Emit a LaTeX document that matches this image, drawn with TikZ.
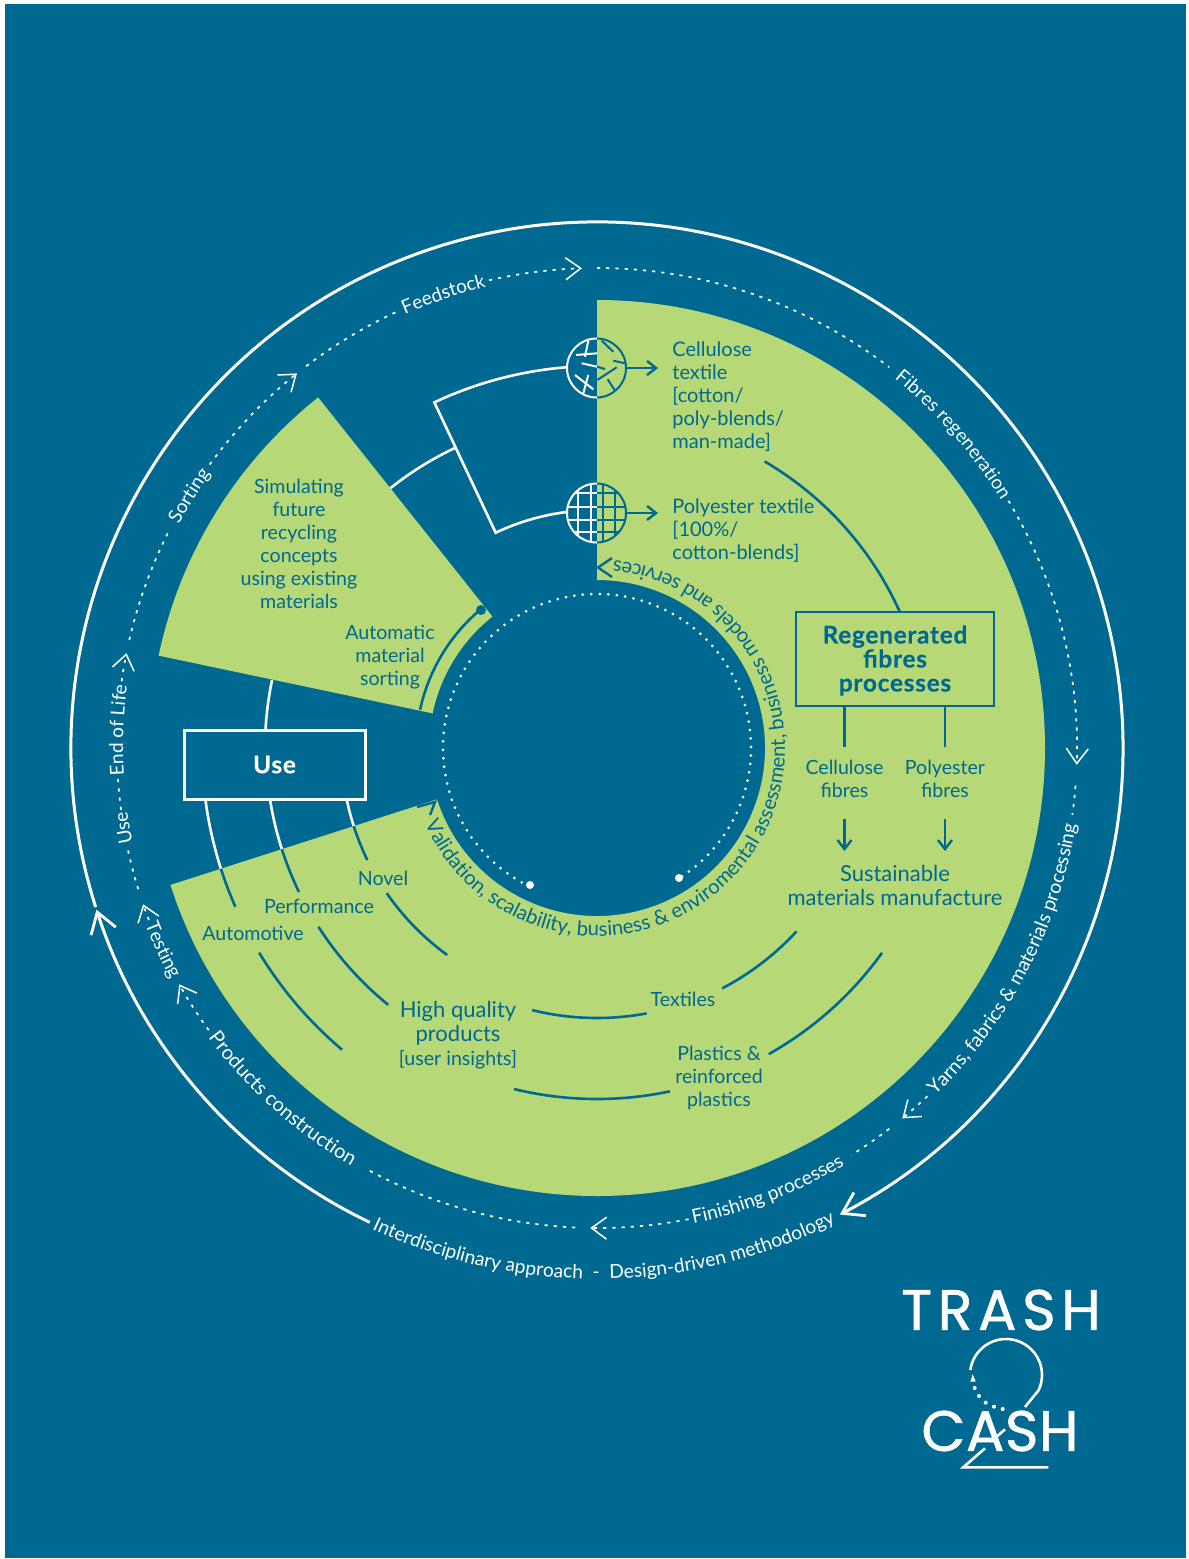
\documentclass[tikz,border=0pt]{standalone}
\usepackage{fontspec}
\setmainfont{Lato}
\newfontfamily\logotrash[LetterSpace=10,FakeBold=1]{Poppins}
\newfontfamily\logocash[LetterSpace=1,FakeBold=1]{Poppins}
\newcommand\heavytext{\fontsize{12.2}{12}\selectfont\bfseries\addfontfeature{LetterSpace=3,FakeBold=.4}}
\usetikzlibrary{arrows.meta,decorations.text}
\definecolor{bluebg}{HTML}{006992}
\definecolor{leaf}{HTML}{B6D877}
\tikzset{
  conw/.style={draw=white,line width=1.3pt},
  cont/.style={draw=bluebg,line width=1.3pt},
  ringline/.style={draw=white,line width=1.5pt},
  ringdash/.style={draw=white,line width=.85pt,dash pattern=on 1.6pt off 3pt},
  ringtip/.style={-{Straight Barb[length=7.5pt,width=11pt,line width=.75pt]}},
  bigtip/.style={-{Straight Barb[length=10pt,width=13pt,line width=1.4pt]}},
  tealtip/.style={draw=bluebg,line width=1.2pt,-{Straight Barb[length=4.5pt,width=7pt,line width=1.2pt]}},
  lab/.style={text=bluebg,font=\fontsize{9.8}{11.5}\selectfont,align=center,inner sep=0pt},
  labl/.style={lab,font=\fontsize{10}{11.5}\selectfont,align=left,anchor=west},
  labbig/.style={lab,font=\fontsize{11}{12.2}\selectfont},
  boxlab/.style={text=bluebg,font=\heavytext,align=center,draw=bluebg,line width=1.4pt,inner sep=0pt},
}
\newcommand\ringarc[4][]{\draw[#1] (597,-748) ++(#3:#2) arc[start angle=#3,end angle=#4,radius=#2];}
\newcommand\ringtext[6][10]{\path[decorate,decoration={text along path,text align=center,text={|\fontsize{#1}{12}\selectfont\color{#2}|#6}}] (597,-748) ++(#4:#3) arc[start angle=#4,end angle=#5,radius=#3];}
\begin{document}
\begin{tikzpicture}[x=.5pt,y=.5pt]
\useasboundingbox (0,0) rectangle (1189,-1559);
\fill[white] (0,0) rectangle (1189,-1559);
\fill[bluebg] (5,-4) rectangle (1186,-1558);
% green areas
\fill[leaf] (597,-748) ++(90:448) arc[start angle=90,end angle=-162.2,radius=448] -- ++(17.8:280) arc[start angle=-162.2,end angle=90,radius=168] -- cycle;
\fill[leaf] (597,-748) ++(128.5:448) arc[start angle=128.5,end angle=168.1,radius=448] -- ++(-11.9:280) arc[start angle=168.1,end angle=128.5,radius=168] -- cycle;
% outer ring
\ringarc[ringline,bigtip]{526}{197.6}{-62.5}
\ringarc[ringline,bigtip]{526}{244.4}{197.9}
\ringtext[9.6]{white}{531}{238}{303.6}{Interdisciplinary approach{\ }{\ }-{\ }{\ }Design-driven methodology}
% dotted ring
\ringarc[ringdash]{480}{90}{52.5}
\ringarc[ringdash,ringtip]{480}{31}{-2}
\ringarc[ringdash]{480}{-4.5}{-8}
\ringarc[ringdash,ringtip]{480}{-46.5}{-50.5}
\ringarc[ringdash]{480}{-52.5}{-58}
\ringarc[ringdash,ringtip]{480}{-79}{-90.8}
\ringarc[ringdash]{480}{267.4}{241.2}
\ringarc[ringdash,ringtip]{480}{216}{209.5}
\ringarc[ringdash,ringtip]{480}{201}{199}
\ringarc[ringdash]{480}{197.1}{192}
\ringarc[ringdash]{480}{187.4}{183.6}
\ringarc[ringdash,ringtip]{480}{172}{168.6}
\ringarc[ringdash]{480}{167}{152.8}
\ringarc[ringdash,ringtip]{480}{143.8}{128.7}
\ringarc[ringdash]{480}{127.3}{114.7}
\ringarc[ringdash,ringtip]{480}{103}{91.8}
% ring labels
\ringtext[9.5]{white}{474}{114.1}{103.3}{Feedstock}
\ringtext[9.5]{white}{474}{152.3}{144.2}{Sorting}
\ringtext[9.5]{white}{474}{183.3}{172.4}{End of Life}
\ringtext[9.5]{white}{474}{191.5}{187.7}{Use}
\ringtext[9.5]{white}{474}{51.6}{31}{Fibres regeneration}
\ringtext[9.7]{white}{485}{-46.2}{-8.7}{Yarns, fabrics {\&} materials processing}
\ringtext[9.6]{white}{485}{-79.2}{-58.6}{Finishing processes}
\ringtext[10]{white}{485}{215.9}{240.4}{Products construction}
\ringtext[9.5]{white}{485}{201.1}{208.7}{Testing}
% inner dotted ring
\ringarc[draw=white,line width=1.5pt,line cap=round,dash pattern=on 0pt off 4.25pt]{154}{243.9}{-57.8}
\fill[white] (530,-885) circle[radius=4];
\fill[white] (679,-878) circle[radius=4];
% inner label and its two chevrons
\ringtext[10.15]{bluebg}{188}{197}{451.6}{Validation, scalability, business {\&} enviromental assessment, business models and services}
\draw[bluebg,line width=1.2pt] (612,-558) -- (598,-567.5) -- (612,-577);
\draw[bluebg,line width=1.2pt] (417,-807) -- (435,-802) -- (430,-815);
% globes
\coordinate (gA) at (596.5,-368);
\coordinate (gB) at (596.5,-513);
\begin{scope}
\clip (560,-330) rectangle (597,-550);
\draw[white,line width=1pt] (gA) circle[radius=29.5] (gB) circle[radius=29.5];
\draw[white,line width=1pt] (588.3,-340.7)--(585,-356.7) (576,-355)--(597,-353.3) (581.7,-363.3)--(597,-366.7) (575,-375)--(593.3,-389.3) (588.3,-375)--(583.3,-393.3);
\clip (gB) circle[radius=29.5];
\draw[white,line width=1pt] (578.3,-480)--(578.3,-545) (590.7,-480)--(590.7,-545) (560,-493.3)--(597,-493.3) (560,-506.7)--(597,-506.7) (560,-520)--(597,-520) (560,-532.3)--(597,-532.3);
\end{scope}
\begin{scope}
\clip (597,-330) rectangle (632,-550);
\draw[bluebg,line width=1pt] (gA) circle[radius=29.5] (gB) circle[radius=29.5];
\draw[bluebg,line width=1pt] (601.7,-340.7)--(613.3,-351.7) (613.3,-360.7)--(625,-363.3) (597,-366.7)--(605,-369) (597.3,-380)--(616.7,-367.3) (607.7,-379.3)--(615,-390.7);
\clip (gB) circle[radius=29.5];
\draw[bluebg,line width=1pt] (602.7,-480)--(602.7,-545) (615,-480)--(615,-545) (597,-493.3)--(632,-493.3) (597,-506.7)--(632,-506.7) (597,-520)--(632,-520) (597,-532.3)--(632,-532.3);
\end{scope}
% text nodes
\node[labl] (cell) at (672,-397) {Cellulose\\textile\\{[}cotton/\\poly-blends/\\man-made{]}};
\node[labl] (poly) at (672,-531) {Polyester textile\\{[}100\%/\\cotton-blends{]}};
\node[lab] (sim) at (299,-544) {Simulating\\future\\recycling\\concepts\\using existing\\materials};
\node[lab] (auto) at (390,-657) {Automatic\\material\\sorting};
\node[draw=white,line width=1.5pt,minimum width=90.5pt,minimum height=34.5pt,inner sep=0pt,text=white,font=\heavytext] (use) at (274.5,-764.5) {Use};
\node[boxlab,minimum width=99pt,minimum height=47pt] (regen) at (895,-659) {\rule{0pt}{10.5pt}Regenerated\\fibres\\processes};
\node[lab] (cf) at (844.5,-778.5) {Cellulose\\fibres};
\node[lab] (pf) at (945,-778.5) {Polyester\\fibres};
\node[labbig] (sust) at (895,-885.5) {Sustainable\\materials manufacture};
\node[lab] (novel) at (383,-878) {Novel};
\node[lab] (perf) at (319,-906) {Performance};
\node[lab] (autom) at (253,-933) {Automotive};
\node[labbig] (hq) at (458,-1023) {High quality\\products};
\node[lab] (ui) at (458,-1060) {{[}user insights{]}};
\node[lab] (tex) at (683,-999) {Textiles};
\node[lab] (pla) at (719,-1077.5) {Plastics \&\\reinforced\\plastics};
% short connectors
\coordinate (ca) at (658,-368);
\coordinate (cb) at (658,-513);
\draw[tealtip] (626,-368) -- (ca);
\draw[tealtip] (626,-513) -- (cb);
\coordinate (c1) at (844.5,-747);
\coordinate (c2) at (945,-747);
\draw[cont] (regen.south -| c1) -- (c1);
\draw[cont] (regen.south -| c2) -- (c2);
\coordinate (d1) at (844.5,-819);
\coordinate (d2) at (945,-819);
\coordinate (e1) at (844.5,-851);
\coordinate (e2) at (945,-851);
\draw[tealtip] (d1) -- (e1);
\draw[tealtip] (d2) -- (e2);
% arcs
\ringarc[conw]{332}{176.7}{168.2}
\ringarc[conw]{395}{187.6}{197.8}
\ringarc[cont]{395}{197.8}{203.7}
\ringarc[conw]{331}{189}{197.8}
\ringarc[cont]{331}{197.8}{205.8}
\ringarc[conw]{255.5}{191.75}{197.8}
\ringarc[cont]{255.5}{197.8}{206}
\ringarc[cont]{395}{211.2}{229.8}
\ringarc[cont]{331}{212.7}{230.9}
\ringarc[cont]{255.5}{214.6}{234.1}
\ringarc[cont]{270}{256.1}{280.6}
\ringarc[cont]{271}{297.5}{317.4}
\ringarc[cont]{351}{256.3}{282}
\ringarc[cont]{351}{299.3}{324.3}
\ringarc[cont]{332}{59.7}{24.2}
\ringarc[conw]{332}{128.5}{115.2}
\draw[conw] (597,-748) ++(97.5:238) arc[start angle=97.5,end angle=115.2,radius=238] -- ++(115.2:144) arc[start angle=115.2,end angle=94.65,radius=382];
\ringarc[cont]{181}{130}{167.8}
\fill[bluebg] (481,-610) circle[radius=5];
% logo
\node[inner sep=0pt,text=white,font=\logotrash\fontsize{28.5}{30}\selectfont] (trash) at (1001,-1310) {TRASH};
\node[inner sep=0pt,text=white,font=\logocash\fontsize{28.5}{30}\selectfont] (cash) at (1000,-1431) {CASH};
\draw[white,line width=1.3pt] (1006,-1375) ++(172:36) arc[start angle=172,end angle=-25,radius=36] -- (1025,-1407);
\draw[white,line width=1.3pt] (1005,-1429.3) -- (996.7,-1436.7);
\draw[white,line width=1.3pt] (985,-1448.3) -- (963.3,-1467.3) -- (1048.3,-1467.3);
\fill[white] (1002.7,-1409) circle[radius=2] (994,-1406.7) circle[radius=2] (985.7,-1402.7) circle[radius=2] (979,-1396) circle[radius=2] (974.7,-1388) circle[radius=2];
\fill[white] (972.7,-1374.3) -- (970.3,-1381.7) -- (975.7,-1381.7) -- cycle;
\end{tikzpicture}
\end{document}
